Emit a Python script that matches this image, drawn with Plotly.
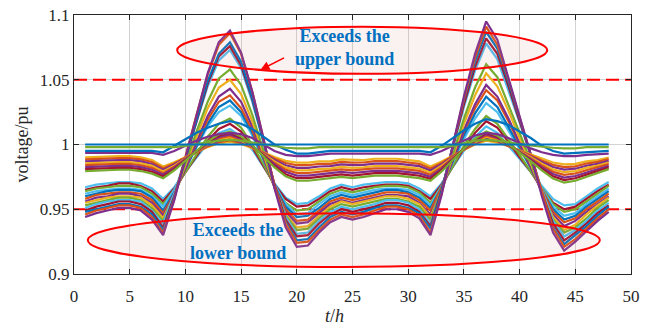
import plotly.graph_objects as go

hours = [1, 2, 3, 4, 5, 6, 7, 8, 9, 10, 11, 12, 13, 14, 15, 16, 17, 18, 19, 20, 21, 22, 23, 24,
         25, 26, 27, 28, 29, 30, 31, 32, 33, 34, 35, 36, 37, 38, 39, 40, 41, 42, 43, 44, 45, 46, 47, 48]

x_ticks = [0, 5, 10, 15, 20, 25, 30, 35, 40, 45, 50]
y_ticks = [0.9, 0.95, 1.0, 1.05, 1.1]
y_tick_text = ["0.9", "0.95", "1", "1.05", "1.1"]
upper_bound = 1.05
lower_bound = 0.95

# ---- far buses (lowest night voltage, largest swings) ----
v_c01 = [.967, .969, .970, .971, .971, .970, .966, .958, .967, .979, .990, 1.001, 1.009, 1.012, 1.006, .996, .983, .970, .959, .954,
         .955, .960, .966, .969, .967, .969, .970, .971, .971, .970, .966, .960, .970, .983, .995, 1.006, 1.014, 1.009, .999, .989,
         .979, .968, .958, .953, .954, .960, .966, .971]
v_c02 = [.965, .967, .968, .970, .970, .968, .964, .956, .966, .979, .991, 1.003, 1.012, 1.016, 1.010, .998, .984, .969, .958, .952,
         .953, .958, .964, .967, .965, .967, .968, .969, .969, .968, .964, .958, .969, .983, .997, 1.009, 1.018, 1.013, 1.002, .990,
         .979, .966, .955, .950, .952, .958, .964, .969]
v_c03 = [.964, .966, .967, .968, .968, .967, .962, .954, .965, .979, .993, 1.006, 1.016, 1.020, 1.013, 1.000, .985, .968, .955, .949,
         .950, .956, .962, .965, .963, .965, .967, .968, .968, .967, .963, .955, .968, .983, .999, 1.012, 1.022, 1.016, 1.004, .992,
         .979, .966, .954, .948, .950, .956, .962, .968]
v_c04 = [.962, .964, .965, .966, .966, .965, .960, .952, .965, .982, .998, 1.014, 1.025, 1.030, 1.022, 1.007, .988, .969, .954, .946,
         .947, .954, .960, .963, .961, .963, .965, .966, .966, .965, .961, .953, .968, .986, 1.004, 1.020, 1.032, 1.025, 1.011, .996,
         .982, .966, .952, .945, .947, .954, .960, .966]
v_c05 = [.960, .962, .964, .965, .965, .964, .959, .949, .963, .981, .999, 1.016, 1.029, 1.034, 1.025, 1.009, .989, .968, .952, .944,
         .945, .951, .958, .961, .959, .961, .963, .965, .965, .963, .959, .951, .967, .987, 1.007, 1.024, 1.037, 1.029, 1.014, .998,
         .982, .965, .950, .942, .945, .952, .958, .964]
v_c06 = [.958, .961, .962, .963, .963, .962, .957, .947, .962, .982, 1.001, 1.019, 1.033, 1.038, 1.028, 1.011, .990, .967, .950, .941,
         .942, .949, .956, .959, .957, .959, .961, .963, .963, .962, .957, .949, .967, .988, 1.010, 1.028, 1.042, 1.034, 1.018, 1.000,
         .983, .965, .948, .940, .943, .950, .956, .962]
v_c07 = [.956, .959, .960, .962, .962, .960, .955, .945, .962, .982, 1.003, 1.022, 1.037, 1.043, 1.033, 1.014, .991, .967, .948, .939,
         .940, .947, .954, .957, .955, .957, .959, .961, .961, .960, .955, .946, .965, .988, 1.011, 1.031, 1.046, 1.037, 1.020, 1.001,
         .983, .963, .946, .937, .941, .948, .954, .960]
v_c08 = [.955, .957, .959, .960, .960, .959, .953, .943, .961, .984, 1.006, 1.028, 1.044, 1.050, 1.039, 1.018, .993, .967, .946, .936,
         .937, .945, .952, .956, .954, .956, .958, .960, .960, .958, .954, .944, .965, .991, 1.016, 1.038, 1.055, 1.045, 1.026, 1.005,
         .985, .963, .944, .934, .938, .946, .953, .959]
v_c09 = [.953, .955, .957, .959, .959, .957, .951, .941, .961, .986, 1.010, 1.033, 1.051, 1.058, 1.046, 1.023, .996, .968, .945, .934,
         .935, .943, .950, .954, .952, .954, .956, .958, .958, .956, .952, .942, .965, .992, 1.020, 1.044, 1.062, 1.052, 1.031, 1.009,
         .987, .963, .942, .932, .936, .943, .951, .957]
v_c10 = [.951, .954, .956, .957, .957, .956, .949, .939, .962, .990, 1.018, 1.045, 1.065, 1.073, 1.059, 1.033, 1.002, .969, .944, .931,
         .932, .941, .948, .952, .950, .952, .954, .957, .957, .955, .950, .939, .965, .997, 1.029, 1.057, 1.078, 1.066, 1.042, 1.017,
         .992, .965, .941, .929, .934, .941, .949, .955]
v_c11 = [.949, .952, .954, .956, .956, .954, .948, .936, .960, .989, 1.019, 1.047, 1.068, 1.076, 1.061, 1.035, 1.003, .969, .942, .929,
         .930, .939, .946, .950, .948, .950, .952, .955, .955, .953, .948, .937, .965, .998, 1.031, 1.060, 1.082, 1.070, 1.045, 1.018,
         .992, .963, .939, .926, .932, .939, .947, .953]
v_c12 = [.948, .950, .952, .954, .954, .952, .946, .934, .959, .989, 1.020, 1.049, 1.070, 1.079, 1.064, 1.036, 1.003, .967, .940, .926,
         .927, .936, .944, .948, .946, .948, .951, .953, .953, .951, .947, .935, .964, .999, 1.034, 1.064, 1.087, 1.074, 1.048, 1.020,
         .992, .962, .936, .923, .930, .937, .945, .952]
v_c13 = [.946, .949, .951, .953, .953, .951, .944, .932, .958, .991, 1.023, 1.054, 1.077, 1.086, 1.070, 1.041, 1.005, .968, .939, .924,
         .925, .934, .942, .946, .944, .946, .949, .952, .952, .950, .945, .932, .962, .999, 1.035, 1.067, 1.091, 1.077, 1.050, 1.021,
         .992, .962, .935, .921, .927, .935, .943, .950]
v_c14 = [.944, .947, .949, .951, .951, .949, .942, .930, .957, .990, 1.023, 1.055, 1.079, 1.088, 1.071, 1.041, 1.005, .966, .936, .921,
         .922, .932, .940, .944, .942, .944, .947, .950, .950, .948, .943, .930, .961, .999, 1.037, 1.070, 1.095, 1.081, 1.052, 1.022,
         .992, .960, .932, .918, .925, .933, .941, .948]

# ---- middle buses ----
v_b1 = [.990, .9905, .991, .991, .991, .990, .988, .983, .9862, .9902, .9942, .998, 1.0009, 1.002, 1.0004, .9975, .994, .9903, .9874, .986,
        .986, .987, .987, .9885, .988, .988, .989, .989, .989, .988, .987, .983, .9868, .9914, .996, 1.000, 1.003, 1.0015, .9986, .9955,
        .9923, .989, .9861, .9846, .985, .987, .988, .990]
v_b2 = [.9885, .989, .9895, .9895, .9895, .9885, .9865, .9817, .9853, .9898, .9943, .9986, 1.0018, 1.0031, 1.0012, .9978, .9936, .9892, .9857, .984,
        .984, .985, .9851, .9866, .986, .9861, .9871, .9871, .9871, .9861, .9851, .9814, .9857, .9909, .9961, 1.0006, 1.004, 1.0023, .9989, .9952,
        .9916, .9877, .9843, .9826, .9831, .9853, .9866, .9887]
v_b3 = [.987, .9875, .988, .988, .988, .987, .985, .9804, .9845, .9895, .9945, .9993, 1.0029, 1.0043, 1.0021, .9981, .9932, .988, .984, .982,
        .982, .983, .9833, .9846, .984, .9843, .9853, .9853, .9853, .9843, .9833, .9799, .9847, .9904, .9962, 1.0012, 1.005, 1.003, .9991, .995,
        .9908, .9865, .9826, .9806, .9813, .9836, .9851, .9874]
v_b4 = [.9855, .986, .9865, .9865, .9865, .9855, .9835, .9791, .9836, .9891, .9946, .9999, 1.0038, 1.0054, 1.0029, .9983, .9927, .9869, .9823, .980,
        .980, .981, .9814, .9827, .982, .9824, .9834, .9834, .9834, .9824, .9814, .9783, .9836, .9899, .9963, 1.0018, 1.006, 1.0038, .9994, .9948,
        .9901, .9852, .9808, .9786, .9794, .9819, .9837, .9861]
v_b5 = [.984, .9845, .985, .985, .985, .984, .982, .9779, .9828, .9888, .9948, 1.0006, 1.0049, 1.0066, 1.0037, .9986, .9923, .9857, .9806, .978,
        .978, .979, .9796, .9808, .980, .9806, .9816, .9816, .9816, .9806, .9796, .9767, .9825, .9894, .9964, 1.0025, 1.007, 1.0046, .9997, .9945,
        .9893, .9838, .9789, .9765, .9776, .9801, .9823, .9849]
v_b6 = [.9825, .983, .9835, .9835, .9835, .9825, .9805, .9766, .9819, .9884, .995, 1.0012, 1.0058, 1.0077, 1.0045, .9988, .9919, .9846, .9789, .976,
        .976, .977, .9777, .9789, .978, .9787, .9797, .9797, .9797, .9787, .9777, .9751, .9814, .9889, .9965, 1.0031, 1.008, 1.0053, 1.000, .9943,
        .9886, .9825, .9772, .9745, .9757, .9784, .9809, .9836]
v_b7 = [.981, .9815, .982, .982, .982, .981, .979, .9753, .981, .9881, .9951, 1.0018, 1.0069, 1.0089, 1.0054, .9991, .9915, .9834, .9771, .974,
        .974, .975, .9759, .9769, .976, .9769, .9779, .9779, .9779, .9769, .9759, .9736, .9803, .9885, .9966, 1.0037, 1.009, 1.0061, 1.0002, .994,
        .9878, .9813, .9754, .9725, .9739, .9767, .9794, .9823]
v_b8 = [.9795, .980, .9805, .9805, .9805, .9795, .9775, .974, .9801, .9877, .9952, 1.0024, 1.0078, 1.010, 1.0062, .9994, .991, .9823, .9754, .972,
        .972, .973, .974, .975, .974, .975, .976, .976, .976, .975, .974, .972, .9792, .988, .9967, 1.0043, 1.010, 1.0068, 1.0005, .9938,
        .9871, .980, .9737, .9705, .972, .975, .978, .981]

# ---- buses next to the substation ----
v_a1 = [1.0, 1.0, 1.0, 1.0, 1.0, 1.0, 1.0, 1.0, 1.0, 1.0, 1.0, 1.0, 1.0, 1.0, 1.0, 1.0, 1.0, 1.0, 1.0, 1.0,
        1.0, 1.0, 1.0, 1.0, 1.0, 1.0, 1.0, 1.0, 1.0, 1.0, 1.0, 1.0, 1.0, 1.0, 1.0, 1.0, 1.0, 1.0, 1.0, 1.0,
        1.0, 1.0, 1.0, 1.0, 1.0, 1.0, 1.0, 1.0]
v_a2 = [.998, .998, .998, .998, .998, .998, .998, .9975, .998, .999, 1.0005, 1.002, 1.003, 1.0035, 1.003, 1.0015, 1.0, .9985, .9975, .997,
        .997, .998, .998, .998, .998, .998, .998, .998, .998, .998, .998, .9975, .998, .999, 1.001, 1.003, 1.0035, 1.003, 1.002, 1.0,
        .999, .998, .9975, .997, .997, .998, .998, .998]
v_a3 = [.995, .995, .995, .995, .995, .995, .995, .994, .999, 1.004, 1.009, 1.013, 1.016, 1.018, 1.016, 1.012, 1.006, 1.0, .996, .993,
        .993, .994, .995, .995, .995, .995, .995, .995, .995, .995, .995, .994, .999, 1.005, 1.011, 1.016, 1.0195, 1.018, 1.015, 1.010,
        1.005, .999, .995, .993, .9935, .994, .9945, .995]
v_a4 = [.9935, .9935, .9935, .9935, .9935, .9935, .9935, .992, .995, .999, 1.003, 1.006, 1.008, 1.009, 1.008, 1.005, 1.0, .995, .992, .991,
        .991, .992, .993, .993, .993, .993, .993, .993, .993, .993, .993, .992, .995, .999, 1.003, 1.007, 1.009, 1.008, 1.005, 1.001,
        .997, .994, .992, .991, .991, .992, .9925, .993]

series = [v_c01, v_c02, v_c03, v_c04, v_c05, v_c06, v_c07, v_c08, v_c09, v_c10, v_c11, v_c12, v_c13, v_c14,
          v_b1, v_b2, v_b3, v_b4, v_b5, v_b6, v_b7, v_b8,
          v_a4, v_a3, v_a2, v_a1]

BLUE, ORANGE, YELLOW, PURPLE = "#0072BD", "#D95319", "#EDB120", "#7E2F8E"
GREEN, CYAN, RED = "#77AC30", "#4DBEEE", "#A2142F"
colors = [CYAN, RED, GREEN, CYAN, BLUE, ORANGE, PURPLE, YELLOW, GREEN, CYAN, RED, BLUE, ORANGE, PURPLE,
          YELLOW, ORANGE, PURPLE, YELLOW, ORANGE, PURPLE, RED, GREEN,
          PURPLE, BLUE, GREEN, BLUE]

SERIF = "Times New Roman, Liberation Serif, serif"

fig = go.Figure()

# bound lines (under the data)
for b in (upper_bound, lower_bound):
    fig.add_trace(go.Scatter(x=[0, 50], y=[b, b], mode="lines",
                             line=dict(color="#FF0000", width=2, dash="13px,6px"),
                             hoverinfo="skip", showlegend=False))

for vals, col in zip(series, colors):
    fig.add_trace(go.Scatter(x=hours, y=vals, mode="lines",
                             line=dict(color=col, width=2.2), showlegend=False))

ELL_FILL = "rgba(217,140,140,0.12)"
fig.add_shape(type="circle", xref="x", yref="y", x0=9.26, x1=42.48, y0=1.0546, y1=1.091,
              line=dict(color="#FF0000", width=2), fillcolor=ELL_FILL, layer="above")
fig.add_shape(type="circle", xref="x", yref="y", x0=1.24, x1=47.2, y0=0.9054, y1=0.9469,
              line=dict(color="#FF0000", width=2), fillcolor=ELL_FILL, layer="above")

TXT_FONT = dict(family=SERIF, size=18, color="#0070C0")
fig.add_annotation(x=24.28, y=1.0746, xref="x", yref="y", text="<b>Exceeds the<br>upper bound</b>",
                   showarrow=False, font=TXT_FONT, align="center")
fig.add_annotation(x=14.72, y=0.9254, xref="x", yref="y", text="<b>Exceeds the<br>lower bound</b>",
                   showarrow=False, font=TXT_FONT, align="center")
fig.add_annotation(x=16.74, y=1.0577, ax=18.99, ay=1.0675, xref="x", yref="y", axref="x", ayref="y",
                   text="", showarrow=True, arrowhead=2, arrowsize=1.2, arrowwidth=1.5, arrowcolor="#FF0000")

# axis titles
fig.add_annotation(x=(21 - 74) / 557, y=0.5, xref="paper", yref="paper", text="voltage/pu",
                   textangle=-90, showarrow=False, xanchor="center", yanchor="middle",
                   font=dict(family=SERIF, size=18, color="#262626"))
fig.add_annotation(x=(334 - 74) / 557, y=-(316 - 274) / 259, xref="paper", yref="paper",
                   text="<i>t</i>/<i>h</i>", showarrow=False, xanchor="center", yanchor="middle",
                   font=dict(family=SERIF, size=18, color="#262626"))

axis_common = dict(showgrid=True, gridcolor="#D3D3D3", gridwidth=1, ticks="inside", ticklen=5,
                   tickcolor="#262626", showline=True, linecolor="#262626", linewidth=1,
                   mirror="ticks", zeroline=False, automargin=False,
                   tickfont=dict(family=SERIF, size=17, color="#262626"))

fig.update_xaxes(range=[0, 50], tickvals=x_ticks, ticklabelstandoff=7, **axis_common)
fig.update_yaxes(range=[0.9, 1.1], tickvals=y_ticks, ticktext=y_tick_text, **axis_common)

fig.update_layout(width=646, height=328, margin=dict(l=74, r=15, t=15, b=54, autoexpand=False),
                  paper_bgcolor="white", plot_bgcolor="white", showlegend=False, hovermode=False)

fig.write_html("out.html", config={"displayModeBar": False},
               post_script="document.body.style.margin='0px';")
